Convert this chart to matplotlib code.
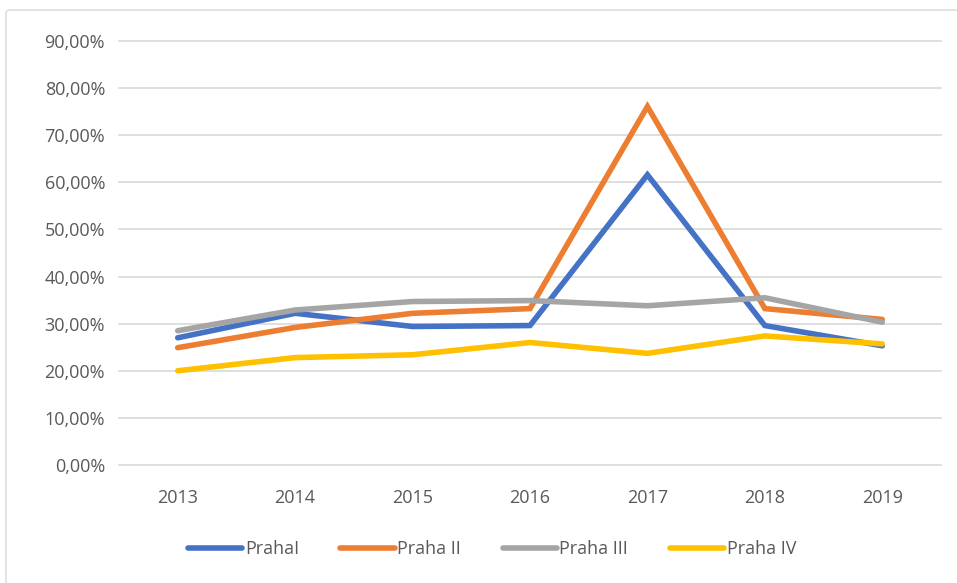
import numpy as np
import matplotlib.pyplot as plt
from matplotlib.patches import FancyBboxPatch
from matplotlib.ticker import FuncFormatter

years = ['2013', '2014', '2015', '2016', '2017', '2018', '2019']
praha_1 = [27.0, 32.2, 29.4, 29.6, 61.6, 29.6, 25.3]
praha_2 = [24.9, 29.2, 32.2, 33.2, 76.1, 33.2, 30.9]
praha_3 = [28.5, 32.9, 34.7, 34.9, 33.8, 35.5, 30.3]
praha_4 = [20.0, 22.8, 23.4, 26.0, 23.7, 27.4, 25.7]
names = ['PrahaI', 'Praha II', 'Praha III', 'Praha IV']
colors = ['#4472C4', '#ED7D31', '#A5A5A5', '#FFC000']

plt.rcParams['font.family'] = ['Open Sans', 'DejaVu Sans']
txt = '#595959'

fig = plt.figure(figsize=(9.57, 5.83), dpi=100)
# chart frame
fig.patches.append(FancyBboxPatch((6/957, -0.05), 1.2, 1 - 10/583 + 0.05,
                                  boxstyle='round,pad=0,rounding_size=0.005',
                                  transform=fig.transFigure, fill=False,
                                  edgecolor='#d9d9d9', linewidth=1))

ax = fig.add_axes([119/957, 118/583, 822/957, 424/583])
x = np.arange(len(years))
for vals, name, c in zip([praha_1, praha_2, praha_3, praha_4], names, colors):
    ax.plot(x, vals, color=c, linewidth=4, label=name,
            solid_capstyle='round', solid_joinstyle='miter')

ax.set_xlim(-0.5, len(years) - 0.5)
ax.set_ylim(0, 90)
ax.set_yticks(np.arange(0, 91, 10))
ax.yaxis.set_major_formatter(FuncFormatter(lambda v, p: f'{v:.2f}%'.replace('.', ',')))
ax.set_xticks(x)
ax.set_xticklabels(years)
for gl in np.arange(0, 91, 10):
    ax.axhline(gl, color='#d9d9d9', linewidth=1.2, zorder=0, clip_on=False)
for s in ax.spines.values():
    s.set_visible(False)
ax.tick_params(length=0, colors=txt, labelsize=13)
ax.tick_params(axis='x', pad=17)
ax.tick_params(axis='y', pad=10)

leg = ax.legend(loc='center', bbox_to_anchor=(492/957, 34/583),
                bbox_transform=fig.transFigure, ncol=4, frameon=False,
                fontsize=13, handlelength=3.0, handletextpad=0.15,
                columnspacing=2.3)
for t in leg.get_texts():
    t.set_color(txt)

fig.savefig('out.png', dpi=100)
